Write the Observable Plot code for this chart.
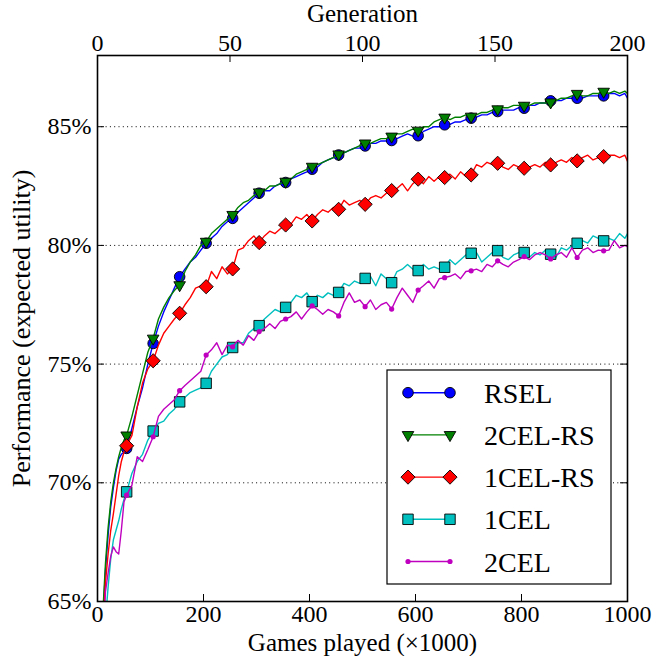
<!DOCTYPE html>
<html><head><meta charset="utf-8">
<script src="https://cdn.jsdelivr.net/npm/d3@7"></script>
<script src="https://cdn.jsdelivr.net/npm/@observablehq/plot@0.6"></script>
<style>
body{margin:0;background:#fff}
</style>
</head><body><div id="chart"></div>
<script>
// x grid (thousands of games played)
const games = [...d3.range(5, 56, 5), ...d3.range(65, 996, 10), 1000];
const markerGames = d3.range(55, 956, 50);
const seriesNames = ["RSEL", "2CEL-RS", "1CEL-RS", "1CEL", "2CEL"];

const rsel = [
  62.0, 64.2, 66.3, 67.8, 69.0, 69.8, 70.5, 71.0, 71.2, 71.3, 71.45,
  72.3, 73.2, 74.0, 75.0, 75.87, 76.6, 77.2, 77.7, 78.2, 78.68,
  79.0, 79.3, 79.5, 79.8, 80.09, 80.3, 80.5, 80.8, 81.0, 81.14,
  81.4, 81.6, 81.8, 82.0, 82.2, 82.3, 82.3, 82.5, 82.6, 82.65,
  82.8, 82.9, 83.0, 83.1, 83.21, 83.3, 83.5, 83.6, 83.7, 83.81,
  83.9, 84.0, 84.1, 84.1, 84.19, 84.3, 84.3, 84.4, 84.4, 84.42,
  84.5, 84.6, 84.7, 84.6, 84.62, 84.8, 84.9, 85.0, 85.0, 85.08,
  85.1, 85.2, 85.2, 85.3, 85.36, 85.4, 85.5, 85.5, 85.6, 85.64,
  85.7, 85.7, 85.7, 85.8, 85.78, 85.9, 85.9, 86.0, 86.0, 86.09,
  86.1, 86.1, 86.2, 86.2, 86.2, 86.2, 86.3, 86.3, 86.3, 86.3,
  86.4, 86.4, 86.3, 86.4, 86.2
];
const cel2rs = [
  62.2, 64.5, 66.6, 68.1, 69.2, 70.0, 70.6, 71.1, 71.5, 71.8, 72.0,
  72.8, 73.7, 74.6, 75.5, 76.08, 76.9, 77.4, 77.8, 78.1, 78.33,
  78.9, 79.3, 79.6, 80.0, 80.16, 80.5, 80.7, 80.9, 81.1, 81.29,
  81.6, 81.8, 81.9, 82.1, 82.24, 82.3, 82.5, 82.5, 82.6, 82.69,
  82.8, 83.0, 83.1, 83.2, 83.32, 83.4, 83.5, 83.6, 83.7, 83.84,
  83.9, 84.0, 84.1, 84.2, 84.3, 84.3, 84.4, 84.5, 84.5, 84.59,
  84.7, 84.7, 84.8, 84.9, 84.84, 85.0, 85.0, 85.2, 85.3, 85.39,
  85.3, 85.4, 85.4, 85.5, 85.43, 85.5, 85.6, 85.6, 85.7, 85.74,
  85.8, 85.8, 85.9, 85.9, 85.89, 85.9, 86.0, 86.0, 86.0, 86.03,
  86.1, 86.2, 86.2, 86.3, 86.39, 86.3, 86.3, 86.4, 86.4, 86.48,
  86.4, 86.5, 86.4, 86.5, 86.4
];
const cel1rs = [
  61.5, 63.8, 65.8, 67.0, 68.0, 68.7, 69.5, 70.3, 70.9, 71.3, 71.56,
  72.0, 73.2, 74.2, 74.8, 75.14, 75.8, 76.3, 76.6, 76.9, 77.14,
  77.5, 77.8, 78.2, 78.3, 78.26, 78.9, 78.6, 79.1, 78.8, 79.01,
  79.8, 79.9, 80.2, 80.4, 80.12, 80.4, 80.6, 80.5, 80.7, 80.86,
  80.9, 81.2, 81.1, 81.3, 81.03, 81.3, 81.5, 81.4, 81.6, 81.52,
  81.9, 81.7, 81.8, 81.9, 81.73, 82.0, 82.1, 82.0, 82.2, 82.31,
  82.4, 82.6, 82.3, 82.6, 82.79, 82.6, 82.9, 82.7, 82.9, 82.86,
  83.0, 82.8, 83.1, 82.9, 82.97, 83.4, 83.3, 83.5, 83.4, 83.46,
  83.3, 83.2, 83.4, 83.3, 83.25, 83.3, 83.4, 83.3, 83.5, 83.39,
  83.5, 83.6, 83.5, 83.7, 83.56, 83.7, 83.8, 83.6, 83.7, 83.74,
  83.8, 83.8, 83.7, 83.8, 83.55
];
const cel1 = [
  60.0, 62.0, 64.2, 65.6, 66.8, 67.6, 68.0, 68.4, 68.9, 69.3, 69.62,
  70.4, 70.9, 71.2, 71.8, 72.18, 72.5, 72.6, 72.9, 73.1, 73.41,
  73.6, 73.8, 73.9, 74.0, 74.19, 74.7, 75.0, 75.3, 75.4, 75.7,
  75.9, 75.9, 76.3, 76.5, 76.62, 76.9, 77.1, 77.3, 77.2, 77.39,
  77.6, 77.9, 77.8, 78.0, 77.63, 77.9, 77.8, 78.0, 77.9, 78.02,
  78.4, 78.3, 78.5, 78.4, 78.61, 78.7, 78.3, 78.8, 78.6, 78.43,
  78.9, 79.0, 79.2, 79.0, 78.94, 79.2, 79.0, 79.1, 79.0, 79.08,
  79.4, 79.2, 79.4, 79.6, 79.67, 79.7, 79.3, 79.5, 79.7, 79.78,
  79.5, 79.4, 79.6, 79.7, 79.70, 79.5, 79.7, 79.6, 79.8, 79.63,
  79.5, 79.9, 79.8, 80.0, 80.09, 80.2, 80.1, 80.4, 80.3, 80.19,
  80.3, 80.2, 80.5, 80.3, 80.5
];
const cel2 = [
  60.5, 63.0, 65.4, 66.2, 66.9, 67.3, 67.1, 67.0, 68.0, 69.2, 69.48,
  69.9, 71.1, 70.9, 71.4, 71.94, 72.8, 73.1, 73.3, 73.5, 73.88,
  74.1, 74.3, 74.5, 74.7, 75.38, 75.6, 75.9, 75.4, 75.8, 75.73,
  76.0, 75.8, 76.2, 76.0, 76.37, 76.5, 76.7, 76.5, 76.8, 76.9,
  77.0, 77.2, 76.9, 77.2, 77.45, 77.3, 77.1, 77.3, 77.2, 77.03,
  77.6, 78.0, 77.6, 77.7, 77.42, 77.7, 77.3, 77.5, 77.6, 77.32,
  77.8, 78.2, 77.9, 77.6, 78.12, 78.3, 78.5, 78.2, 78.6, 78.64,
  78.7, 78.8, 78.6, 78.9, 78.93, 79.0, 78.9, 79.2, 79.1, 79.35,
  79.2, 79.1, 79.3, 79.4, 79.53, 79.4, 79.6, 79.7, 79.6, 79.43,
  79.6, 79.7, 79.5, 79.9, 79.49, 79.8, 79.9, 79.7, 79.8, 79.77,
  79.8, 80.2, 79.9, 80.0, 79.95
];

const yTicks = [65, 70, 75, 80, 85];
const xTicks = [0, 200, 400, 600, 800, 1000];
const generationTicks = [0, 50, 100, 150, 200];
const gamesPerGeneration = 5; // thousand games per generation

const values = [rsel, cel2rs, cel1rs, cel1, cel2];
const styles = [
  {color: "#0000ff", symbol: "circle", r: 5.3, rotate: 0, stroke: "black"},
  {color: "#008000", symbol: "triangle", r: 4.3, rotate: 180, stroke: "black"},
  {color: "#ff0000", symbol: "diamond2", r: 6.4, rotate: 0, stroke: "black"},
  {color: "#00bfbf", symbol: "square", r: 5.9, rotate: 0, stroke: "black"},
  {color: "#bf00bf", symbol: "circle", r: 2.6, rotate: 0, stroke: "none"}
];

const FONT = "Liberation Serif, DejaVu Serif, serif";
const W = 663, H = 656, mL = 97, mR = 36, mT = 55, mB = 55;
const fw = W - mL - mR, fh = H - mT - mB, tick = 7;

const seriesMarks = seriesNames.flatMap((name, i) => {
  const pts = games.map((g, j) => ({games: g, value: values[i][j]}));
  const marks = pts.filter(d => markerGames.includes(d.games));
  const s = styles[i];
  return [
    Plot.line(pts, {x: "games", y: "value", stroke: s.color, strokeWidth: 1.4, clip: true}),
    Plot.dot(marks, {x: "games", y: "value", symbol: s.symbol, r: s.r, rotate: s.rotate,
      fill: s.color, stroke: s.stroke, strokeWidth: 0.9})
  ];
});

const svg = Plot.plot({
  width: W, height: H,
  marginLeft: mL, marginRight: mR, marginTop: mT, marginBottom: mB,
  style: {fontFamily: FONT, fontSize: "24px", background: "white", color: "black"},
  x: {domain: [0, 1000]},
  y: {domain: [65, 88]},
  marks: [
    Plot.ruleY(yTicks.filter(d => d > 65), {stroke: "black", strokeWidth: 1, strokeDasharray: "1,3.3"}),
    ...seriesMarks,
    Plot.ruleX(xTicks, {stroke: "black", insetTop: fh - tick}),
    Plot.ruleX(generationTicks.map(g => g * gamesPerGeneration), {stroke: "black", insetBottom: fh - tick}),
    Plot.ruleY(yTicks, {stroke: "black", insetRight: fw - tick}),
    Plot.ruleY(yTicks, {stroke: "black", insetLeft: fw - tick}),
    Plot.axisX({anchor: "bottom", ticks: xTicks, tickSize: 0, tickPadding: 3, tickFormat: d => String(d),
      label: "Games played (×1000)", labelAnchor: "center", labelArrow: "none", labelOffset: 49}),
    Plot.axisX({anchor: "top", ticks: generationTicks.map(g => g * gamesPerGeneration), tickSize: 0, tickPadding: 5,
      tickFormat: d => String(d / gamesPerGeneration), label: "Generation", labelAnchor: "center", labelArrow: "none", labelOffset: 51}),
    Plot.axisY({anchor: "left", ticks: yTicks, tickSize: 0, tickPadding: 6, tickFormat: d => d + "%",
      label: "Performance (expected utility)", labelAnchor: "center", labelArrow: "none", labelOffset: 86}),
    Plot.frame({stroke: "black", strokeWidth: 1.6})
  ]
});

// Axis titles a bit larger than tick labels
const root = d3.select(svg);
root.selectAll('g[aria-label="x-axis label"]').attr("font-size", 25);
root.selectAll('g[aria-label="y-axis label"]').attr("font-size", 26);

// Legend (inside the plot, lower right)
const lg = root.append("g")
  .attr("font-family", FONT).attr("font-size", 28).attr("text-anchor", "start");
lg.append("rect").attr("x", 387).attr("y", 370).attr("width", 224).attr("height", 214)
  .attr("fill", "white").attr("stroke", "black").attr("stroke-width", 1.2);
const symMap = {circle: d3.symbolCircle, triangle: d3.symbolTriangle, diamond2: d3.symbolDiamond2, square: d3.symbolSquare};
seriesNames.forEach((name, i) => {
  const s = styles[i];
  const cy = 392.7 + i * 42.2;
  const g = lg.append("g");
  g.append("line").attr("x1", 408).attr("x2", 450).attr("y1", cy).attr("y2", cy)
    .attr("stroke", s.color).attr("stroke-width", 1.4);
  [408, 450].forEach(cx => {
    g.append("path").attr("d", d3.symbol(symMap[s.symbol], s.r * s.r * Math.PI)())
      .attr("transform", `translate(${cx},${cy}) rotate(${s.rotate})`)
      .attr("fill", s.color).attr("stroke", s.stroke === "none" ? null : s.stroke).attr("stroke-width", 0.9);
  });
  g.append("text").attr("x", 484).attr("y", cy + 10).attr("fill", "black")
    .attr("text-anchor", "start").text(name);
});

document.getElementById("chart").appendChild(svg);
</script>
</body></html>
